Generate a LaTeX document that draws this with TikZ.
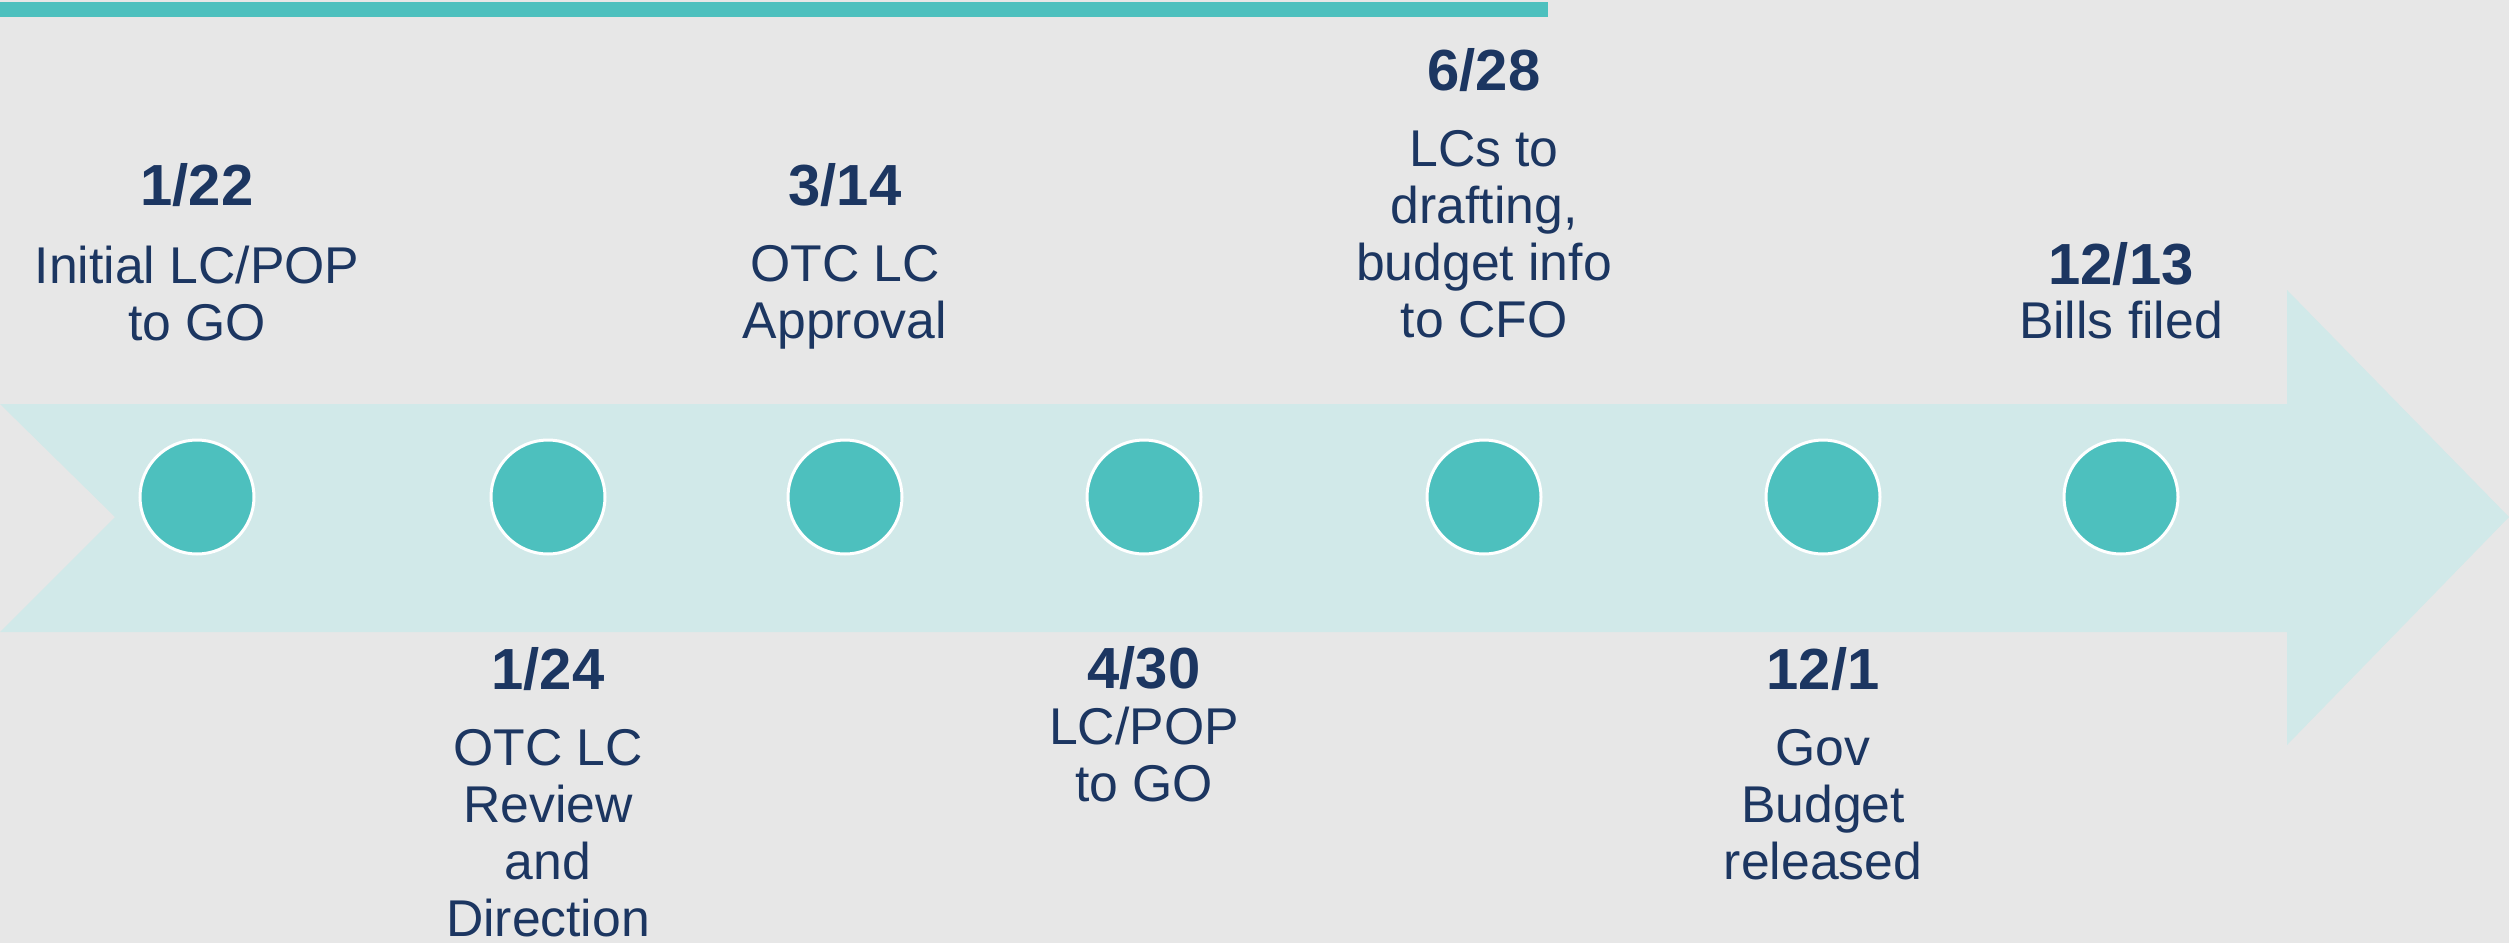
\documentclass[tikz,border=0pt]{standalone}
\usepackage{fontspec}
\setmainfont{Liberation Sans}
\definecolor{bgc}{HTML}{E7E7E7}
\definecolor{arrowc}{HTML}{D1E9E9}
\definecolor{tealc}{HTML}{4DC0BE}
\definecolor{navyc}{HTML}{1C3661}
\tikzset{
  datelbl/.style={anchor=base, inner sep=0pt, text=navyc, font={\fontsize{58}{64}\selectfont\bfseries}},
  desclbl/.style={anchor=north, inner sep=0pt, text=navyc, align=center, font={\fontsize{51.7}{57}\selectfont}},
  dot/.style={circle, fill=tealc, draw=white, line width=3pt, minimum size=114pt, inner sep=0pt}
}
\begin{document}
\begin{tikzpicture}[x=1pt,y=-1pt]
\useasboundingbox (0,0) rectangle (2509,943);
\fill[bgc] (0,0) rectangle (2509,943);
\fill[tealc] (0,2) rectangle (1548,17);
\fill[arrowc] (0,404) -- (2287,404) -- (2287,290) -- (2509,517) -- (2287,745) -- (2287,632) -- (0,632) -- (115,517) -- cycle;
\foreach \x [count=\i] in {197,548,845,1144,1484,1823,2121}
  \node[dot] (c\i) at (\x,497) {};
% top labels
\node[datelbl] (d1) at (197,205) {1/22};
\node[desclbl] (t1) at (197,245.5) {Initial LC/POP\\to GO};
\node[datelbl] (d3) at (845,205) {3/14};
\node[desclbl] (t3) at (845,245.5) {OTC LC\\Approval};
\node[datelbl] (d5) at (1484,90) {6/28};
\node[desclbl] (t5) at (1484,130.5) {LCs to\\drafting,\\budget info\\to CFO};
\node[datelbl] (d7) at (2121,284) {12/13};
\node[desclbl] (t7) at (2121,300.5) {Bills filed};
% bottom labels
\node[datelbl] (d2) at (548,689) {1/24};
\node[desclbl] (t2) at (548,729.5) {OTC LC\\Review\\and\\Direction};
\node[datelbl] (d4) at (1144,688) {4/30};
\node[desclbl] (t4) at (1144,706.5) {LC/POP\\to GO};
\node[datelbl] (d6) at (1823,689) {12/1};
\node[desclbl] (t6) at (1823,729.5) {Gov\\Budget\\released};
\end{tikzpicture}
\end{document}
